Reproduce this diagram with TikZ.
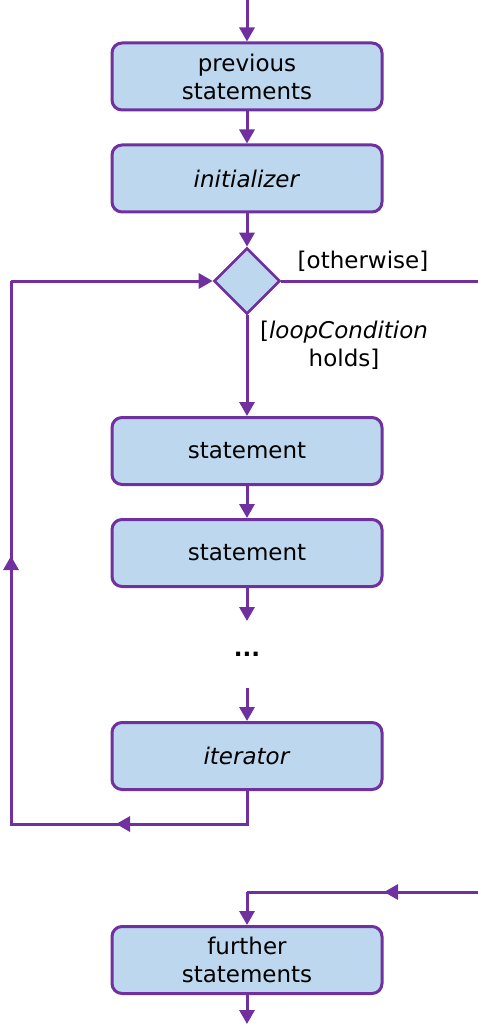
\documentclass[tikz,border=0pt]{standalone}
\usepackage{fontspec}
\setmainfont{DejaVu Sans}
\usetikzlibrary{arrows.meta,shapes.geometric}

\definecolor{vio}{RGB}{112,48,160}
\definecolor{boxblue}{RGB}{189,215,238}

\tikzset{
  actbox/.style={draw=vio, line width=3pt, fill=boxblue, rounded corners=10pt,
    minimum width=270pt, minimum height=67pt, inner sep=0pt, align=center,
    font=\fontsize{23}{28}\selectfont},
  decbox/.style={diamond, draw=vio, line width=2.6pt, fill=boxblue,
    minimum width=66pt, minimum height=66pt, inner sep=0pt},
  wire/.style={draw=vio, line width=3pt},
  flow/.style={wire, -{Triangle[width=15pt,length=14pt]}},
  lbl/.style={font=\fontsize{23}{28}\selectfont, align=center}
}

\begin{document}
\begin{tikzpicture}[x=1pt,y=-1pt]
\useasboundingbox (0,0) rectangle (477,1024);

% Activity boxes
\node[actbox] (prev) at (247,76.5) {previous\\statements};
\node[actbox] (init) at (247,178.5) {\textit{initializer}};
\node[decbox] (dec) at (247,281) {};
\node[actbox] (stmtA) at (247,451) {statement};
\node[actbox] (stmtB) at (247,553) {statement};
\node[lbl] (dots) at (247,654) {\textbf{...}};
\node[actbox] (iter) at (247,756) {\textit{iterator}};
\node[actbox] (further) at (247,960) {further\\statements};

% Helper points
\coordinate (start) at (247,0);
\coordinate (stmtEnd) at (247,621);
\coordinate (iterStart) at (247,688);
\coordinate (loopBR) at (247,824);
\coordinate (loopMid) at (116,824);
\coordinate (loopBL) at (11,824);
\coordinate (loopUp) at (11,556);
\coordinate (loopTL) at (11,281);
\coordinate (exitTR) at (480,281);
\coordinate (exitBR) at (480,892);
\coordinate (exitMid) at (384,892);
\coordinate (exitBL) at (247,892);
\coordinate (finish) at (247,1024);

% Main flow
\draw[flow] (start) -- (prev);
\draw[flow] (prev) -- (init);
\draw[flow] (init) -- (dec);
\draw[flow] (dec) -- (stmtA);
\draw[flow] (stmtA) -- (stmtB);
\draw[flow] (stmtB) -- (stmtEnd);
\draw[flow] (iterStart) -- (iter);

% Loop back
\draw[wire] (iter.south) -- (loopBR) -- (loopBL) -- (loopTL);
\draw[flow] (loopTL) -- (dec.west);
\draw[flow] (loopBR) -- (loopMid);
\draw[flow] (loopBL) -- (loopUp);

% Exit
\draw[wire] (dec.east) -- (exitTR) -- (exitBR) -- (exitBL);
\draw[flow] (exitBR) -- (exitMid);
\draw[flow] (exitBL) -- (further);
\draw[flow] (further) -- (finish);

% Guards
\node[lbl] (guardOut) at (363,261) {[otherwise]};
\node[lbl] (guardIn) at (344,345) {[\textit{loopCondition}\\holds]};
\end{tikzpicture}
\end{document}
